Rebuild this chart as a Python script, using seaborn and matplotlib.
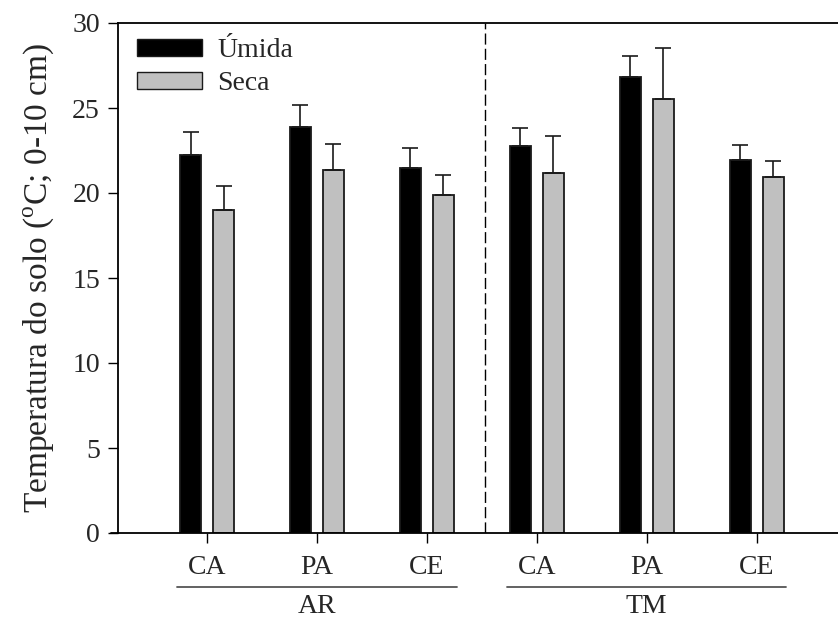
import numpy as np
import pandas as pd
import matplotlib
matplotlib.use("Agg")
import matplotlib.pyplot as plt
from matplotlib.patches import Patch
from matplotlib.lines import Line2D
import seaborn as sns

# Soil temperature (0-10 cm) by land use within each site, wet vs dry season
sites = ["AR", "AR", "AR", "TM", "TM", "TM"]
uses = ["CA", "PA", "CE", "CA", "PA", "CE"]
umida = [22.25, 23.9, 21.5, 22.75, 26.8, 21.96]
umida_err = [1.35, 1.27, 1.16, 1.09, 1.24, 0.86]
seca = [19.02, 21.36, 19.87, 21.15, 25.55, 20.93]
seca_err = [1.42, 1.5, 1.19, 2.22, 3.0, 0.98]
seasons = ["Úmida", "Seca"]
yticks = [0, 5, 10, 15, 20, 25, 30]

keys = [f"{s}-{u}" for s, u in zip(sites, uses)]
df = pd.DataFrame({
    "key": keys * 2,
    "season": [seasons[0]] * 6 + [seasons[1]] * 6,
    "temp": umida + seca,
    "err": umida_err + seca_err,
})

sns.set_style("white")
plt.rcParams["font.family"] = ["Liberation Serif", "DejaVu Serif"]
plt.rcParams["mathtext.fontset"] = "custom"
plt.rcParams["mathtext.rm"] = "Liberation Serif"

fill = {"Úmida": "#000000", "Seca": "#c0c0c0"}
edge = "#1a1a1a"

fig = plt.figure(figsize=(8.38, 6.18), dpi=100)
ax = fig.add_axes([118 / 838, 85 / 618, 1 - 118 / 838, 510 / 618])

sns.barplot(data=df, x="key", y="temp", hue="season", order=keys,
            hue_order=seasons, palette=fill, width=0.6, gap=0.37,
            errorbar=None, edgecolor=edge, linewidth=1.3,
            legend=False, ax=ax)

# upper error bars only, placed on the drawn bars
bars = [p for p in ax.patches if p.get_height() > 0]
for p, e in zip(bars, df["err"]):
    cx = p.get_x() + p.get_width() / 2
    h = p.get_height()
    ax.errorbar([cx], [h], yerr=[[0], [e]], fmt="none", ecolor="#1a1a1a",
                elinewidth=1.2, capsize=5.8, capthick=1.2, zorder=3)

ax.set_xlim(-0.81, 5.74)
ax.set_ylim(0, 30)
ax.set_yticks(yticks)
ax.set_yticklabels([str(t) for t in yticks], fontsize=20)
ax.set_xticks(range(6))
ax.set_xticklabels(uses, fontsize=20)
ax.tick_params(axis="both", direction="out", length=7, width=1.0,
               color="black", bottom=True, left=True)
ax.tick_params(axis="x", pad=9)
ax.tick_params(axis="y", pad=6)
ax.set_xlabel("")
ax.set_ylabel(r"Temperatura do solo ($^{\mathrm{o}}$C; 0-10 cm)",
              fontsize=24, labelpad=12)

for side in ["left", "bottom", "top"]:
    ax.spines[side].set_visible(True)
    ax.spines[side].set_color("black")
    ax.spines[side].set_linewidth(1.3)
ax.spines["right"].set_visible(False)

# separator between the two sites
ax.axvline(2.53, color="black", lw=1.0, dashes=(8, 3), zorder=1)

# site labels with underlines
for grp, (a, b) in zip(["AR", "TM"], [(0, 2), (3, 5)]):
    ax.plot([a - 0.27, b + 0.27], [-3.17, -3.17], color="#555555", lw=1.3,
            clip_on=False, transform=ax.transData)
    ax.text((a + b) / 2, -4.3, grp, ha="center", va="center",
            fontsize=20, clip_on=False)

# short extension of the base line to the left of the y axis
fig.add_artist(Line2D([111 / 838, 118 / 838], [85 / 618, 85 / 618],
                      color="black", lw=1.3))

handles = [Patch(facecolor=fill[s], edgecolor=edge, linewidth=1.0)
           for s in seasons]
ax.legend(handles, seasons, loc="upper left", frameon=False, fontsize=20,
          handlelength=2.35, handleheight=0.55, handletextpad=0.55,
          labelspacing=0.3, borderaxespad=0.0, borderpad=0.0,
          bbox_to_anchor=(19 / 720, 1 - 15 / 510))

fig.savefig("out.png", dpi=100)
